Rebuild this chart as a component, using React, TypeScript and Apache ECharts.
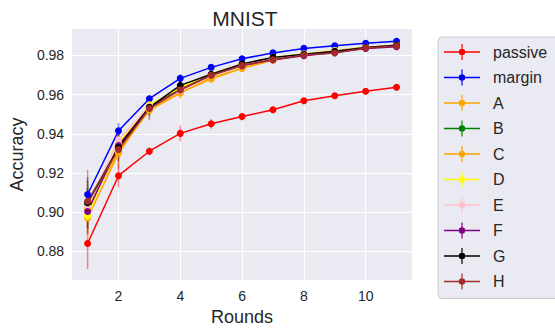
import React, { useEffect, useRef } from "react";
import * as echarts from "echarts";

const rounds = [1, 2, 3, 4, 5, 6, 7, 8, 9, 10, 11];
const xTicks = [2, 4, 6, 8, 10];
const yTicks = [0.88, 0.9, 0.92, 0.94, 0.96, 0.98];

const passive = [0.884, 0.9186, 0.9311, 0.9402, 0.9451, 0.9488, 0.9523, 0.9569, 0.9594, 0.9617, 0.9638];
const margin = [0.909, 0.9415, 0.9579, 0.9683, 0.9739, 0.9783, 0.9813, 0.9836, 0.9849, 0.9862, 0.9872];
const seriesA = [0.9018, 0.931, 0.952, 0.9608, 0.9688, 0.9734, 0.9775, 0.9803, 0.9822, 0.9838, 0.9848];
const seriesB = [0.904, 0.933, 0.954, 0.963, 0.97, 0.975, 0.9785, 0.9805, 0.9822, 0.984, 0.9852];
const seriesC = [0.897, 0.93, 0.953, 0.961, 0.968, 0.9735, 0.978, 0.9805, 0.9825, 0.984, 0.985];
const seriesD = [0.8981, 0.935, 0.9548, 0.9635, 0.9705, 0.9755, 0.979, 0.9808, 0.9825, 0.9842, 0.9852];
const seriesE = [0.903, 0.937, 0.954, 0.962, 0.97, 0.975, 0.9785, 0.9805, 0.9823, 0.984, 0.985];
const seriesF = [0.9003, 0.934, 0.9535, 0.9625, 0.97, 0.9748, 0.9778, 0.9798, 0.9815, 0.9835, 0.9845];
const seriesG = [0.9048, 0.933, 0.9535, 0.9647, 0.9704, 0.9757, 0.979, 0.9806, 0.9821, 0.9841, 0.9852];
const seriesH = [0.9056, 0.932, 0.9529, 0.9625, 0.9699, 0.9749, 0.9778, 0.9802, 0.9812, 0.9838, 0.9848];

const passiveErr = [0.013, 0.006, 0.002, 0.004, 0.0025, 0.002, 0.0015, 0.0015, 0.001, 0.001, 0.001];
const marginErr = [0.004, 0.004, 0.002, 0.002, 0.0015, 0.0012, 0.001, 0.001, 0.001, 0.001, 0.001];
const errA = [0.012, 0.006, 0.004, 0.003, 0.002, 0.002, 0.0015, 0.001, 0.001, 0.001, 0.001];
const errB = [0.012, 0.005, 0.004, 0.003, 0.002, 0.0015, 0.0015, 0.001, 0.001, 0.001, 0.001];
const errC = [0.015, 0.006, 0.004, 0.003, 0.002, 0.002, 0.0015, 0.001, 0.001, 0.001, 0.001];
const errD = [0.011, 0.005, 0.004, 0.003, 0.002, 0.0015, 0.0015, 0.001, 0.001, 0.001, 0.001];
const errE = [0.012, 0.005, 0.004, 0.003, 0.002, 0.0015, 0.0015, 0.001, 0.001, 0.001, 0.001];
const errF = [0.012, 0.006, 0.004, 0.003, 0.002, 0.0015, 0.0015, 0.001, 0.001, 0.001, 0.001];
const errG = [0.013, 0.007, 0.004, 0.003, 0.002, 0.0015, 0.0015, 0.001, 0.001, 0.001, 0.001];
const errH = [0.016, 0.01, 0.006, 0.003, 0.002, 0.0015, 0.0015, 0.001, 0.001, 0.001, 0.001];

const names = ["passive", "margin", "A", "B", "C", "D", "E", "F", "G", "H"];
const colors = ["#ff0000", "#0000ff", "#ffa500", "#008000", "#ffa500", "#ffff00", "#ffc0cb", "#800080", "#000000", "#a52a2a"];
const values = [passive, margin, seriesA, seriesB, seriesC, seriesD, seriesE, seriesF, seriesG, seriesH];
const errors = [passiveErr, marginErr, errA, errB, errC, errD, errE, errF, errG, errH];

const FONT = "'Liberation Sans', Arial, Helvetica, sans-serif";
const legendIcon =
  "path://M0,7.25h36v1.5h-36z M17.4,0h1.2v16h-1.2z M21.2,8a3.2,3.2 0 1,1 -6.4,0a3.2,3.2 0 1,1 6.4,0z";

export default function App() {
  const ref = useRef<HTMLDivElement>(null);
  useEffect(() => {
    if (!ref.current) return;
    const chart = echarts.init(ref.current, null, { renderer: "svg" });
    const series: any[] = [];
    names.forEach((name, i) => {
      series.push({
        type: "custom",
        name: name + "-err",
        data: rounds.map((r, j) => [r, values[i][j] - errors[i][j], values[i][j] + errors[i][j]]),
        encode: { x: 0, y: [1, 2] },
        renderItem: (params: any, api: any) => {
          const p1 = api.coord([api.value(0), api.value(1)]);
          const p2 = api.coord([api.value(0), api.value(2)]);
          return {
            type: "line",
            shape: { x1: p1[0], y1: p1[1], x2: p2[0], y2: p2[1] },
            style: { stroke: colors[i], lineWidth: 1.5, opacity: 0.45 },
          };
        },
        silent: true,
      });
      series.push({
        type: "line",
        name,
        data: rounds.map((r, j) => [r, values[i][j]]),
        symbol: "circle",
        symbolSize: 7,
        showSymbol: true,
        lineStyle: { color: colors[i], width: 1.5 },
        itemStyle: { color: colors[i] },
      });
    });
    chart.setOption({
      animation: false,
      backgroundColor: "#ffffff",
      title: {
        text: "MNIST",
        left: 240,
        textAlign: "center",
        top: 3,
        textStyle: { fontFamily: FONT, fontSize: 21, fontWeight: "normal", color: "#262626" },
      },
      grid: {
        left: 69,
        top: 29,
        width: 343,
        height: 259,
        show: true,
        backgroundColor: "#eaeaf2",
        borderWidth: 0,
      },
      xAxis: {
        type: "value",
        min: 0.5,
        max: 11.5,
        name: "Rounds",
        nameLocation: "middle",
        nameGap: 24,
        nameTextStyle: { fontFamily: FONT, fontSize: 18, color: "#262626" },
        axisLine: { show: false },
        axisTick: { show: false, customValues: xTicks },
        axisLabel: {
          customValues: xTicks,
          fontFamily: FONT,
          fontSize: 14,
          color: "#262626",
          margin: 9,
        },
        splitLine: { show: true, lineStyle: { color: "#ffffff", width: 1 } },
      },
      yAxis: {
        type: "value",
        min: 0.8653,
        max: 0.9935,
        name: "Accuracy",
        nameLocation: "middle",
        nameGap: 46,
        nameTextStyle: { fontFamily: FONT, fontSize: 18, color: "#262626" },
        axisLine: { show: false },
        axisTick: { show: false, customValues: yTicks },
        axisLabel: {
          customValues: yTicks,
          formatter: (v: number) => v.toFixed(2),
          fontFamily: FONT,
          fontSize: 14,
          color: "#262626",
          margin: 8,
        },
        splitLine: { show: true, lineStyle: { color: "#ffffff", width: 1 } },
      },
      legend: {
        orient: "vertical",
        left: 438,
        top: 37,
        padding: [7, 12, 9, 6],
        itemWidth: 36,
        itemHeight: 16,
        itemGap: 9.5,
        backgroundColor: "#eaeaf2",
        borderColor: "#cccccc",
        borderWidth: 1,
        borderRadius: 4,
        data: names.map((n) => ({ name: n, icon: legendIcon })),
        textStyle: { fontFamily: FONT, fontSize: 16, color: "#262626", padding: [0, 0, 0, 8] },
        selectedMode: false,
      },
      series,
    });
    return () => chart.dispose();
  }, []);
  return <div ref={ref} style={{ width: 555, height: 331, position: "absolute", left: 0, top: 0 }} />;
}
